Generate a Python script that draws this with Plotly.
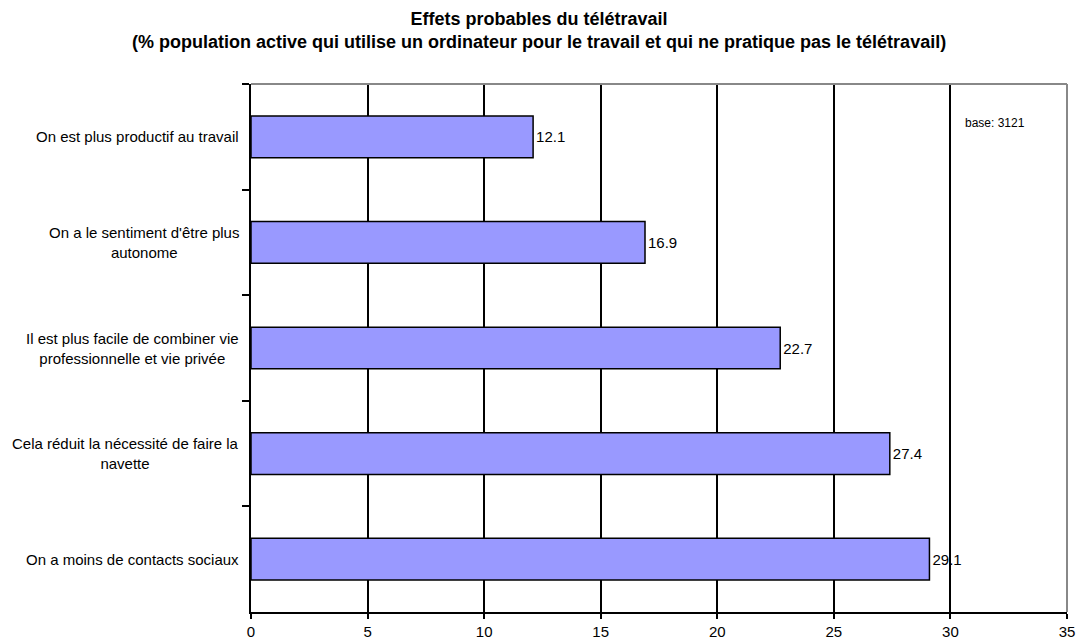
import plotly.graph_objects as go

categories = [
    "On est plus productif au travail",
    "On a le sentiment d'être plus<br>autonome",
    "Il est plus facile de combiner vie<br>professionnelle et vie privée",
    "Cela réduit la nécessité de faire la<br>navette",
    "On a moins de contacts sociaux",
]
values = [12.1, 16.9, 22.7, 27.4, 29.1]
value_labels = ["12.1", "16.9", "22.7", "27.4", "29.1"]
x_ticks = [0, 5, 10, 15, 20, 25, 30, 35]
title_text = ("<b>Effets probables du télétravail<br>"
              "(% population active qui utilise un ordinateur pour le travail et qui ne pratique pas le télétravail)</b>")
note_text = "base: 3121"

FONT = "Arial, Liberation Sans, sans-serif"
W, H = 1078, 641
L, R, T, B = 251, 11, 84, 29
PW, PH = W - L - R, H - T - B


def px_x(x):
    return (x - L) / PW


def px_y(y):
    return (H - B - y) / PH


fig = go.Figure()
fig.add_trace(go.Bar(
    y=categories,
    x=values,
    orientation="h",
    marker=dict(color="#9999FF", line=dict(color="black", width=1.5)),
    text=value_labels,
    textposition="outside",
    textfont=dict(family=FONT, size=15, color="black"),
    cliponaxis=False,
    hoverinfo="skip",
))

for c in categories:
    fig.add_annotation(
        x=0, xref="paper", y=c, yref="y",
        text=c, showarrow=False, xanchor="right", yanchor="middle",
        align="center", xshift=-10,
        font=dict(family=FONT, size=15, color="black"),
    )

fig.add_annotation(
    x=px_x(963), xref="paper", y=px_y(123), yref="paper",
    text=note_text, showarrow=False, xanchor="left", yanchor="middle",
    font=dict(family=FONT, size=12, color="black"),
)

fig.add_annotation(
    x=px_x(539), xref="paper", y=px_y(7), yref="paper",
    text=title_text, showarrow=False, xanchor="center", yanchor="top",
    align="center",
    font=dict(family=FONT, size=18, color="black"),
)

# gray top and right border of plot area
fig.add_shape(type="line", xref="paper", yref="paper", x0=0, x1=1, y0=1, y1=1,
              line=dict(color="#888888", width=2), layer="above")
fig.add_shape(type="line", xref="paper", yref="paper", x0=1, x1=1, y0=0, y1=1,
              line=dict(color="#888888", width=2), layer="above")

fig.update_layout(
    width=W, height=H,
    margin=dict(l=L, r=R, t=T, b=B, autoexpand=False),
    paper_bgcolor="white", plot_bgcolor="white",
    showlegend=False,
    bargap=0.605,
    font=dict(family=FONT, size=15, color="black"),
)

fig.update_xaxes(
    range=[0, 35], tickvals=x_ticks, ticktext=[str(t) for t in x_ticks],
    showgrid=True, gridcolor="black", gridwidth=1.5,
    showline=True, linecolor="black", linewidth=1.5,
    ticks="outside", ticklen=5, tickwidth=1.5, tickcolor="black",
    tickfont=dict(family=FONT, size=15, color="black"),
    zeroline=False, fixedrange=True, automargin=False,
)
fig.update_yaxes(
    autorange="reversed", tickson="boundaries",
    showticklabels=False, showgrid=False,
    showline=True, linecolor="black", linewidth=1.5,
    ticks="outside", ticklen=7, tickwidth=1.5, tickcolor="black",
    zeroline=False, fixedrange=True, automargin=False,
)

fig.write_html(
    "out.html",
    config={"displayModeBar": False},
    post_script="document.body.style.margin='0';document.body.style.overflow='hidden';",
)
